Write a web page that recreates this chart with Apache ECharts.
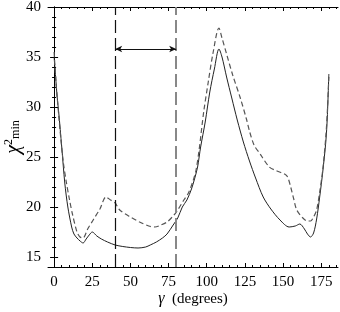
<!DOCTYPE html>
<html><head><meta charset="utf-8">
<script src="https://cdn.jsdelivr.net/npm/echarts@6/dist/echarts.min.js"></script>
<style>html,body{margin:0;padding:0;background:#fff}#c{width:340px;height:312px}</style>
</head><body><div id="c"></div>
<script>
var xTicks = [0, 25, 50, 75, 100, 125, 150, 175];
var yTicks = [15, 20, 25, 30, 35, 40];
var gammaSolid = [0,1,2,3,5,7,9,11.5,13,15,17,19,21,23,25,28,31,35,40,45,50,55,60,63,67,71,74,78,81,84,87,90,92,94,96,99,102,105,108,110,113,116.4,120,124,128,132,137,142,148,154,158,161,164,166,168,170,172,174,176,178,179,180];
var chiSolid = [35,33,31,29.5,26,22.4,20,18,17.3,16.9,16.6,16.4,16.8,17.2,17.5,17.1,16.8,16.5,16.2,16.05,15.95,15.9,16.0,16.2,16.5,16.9,17.3,18.2,18.9,20,20.7,21.8,22.8,24,26,28.5,31.5,33.8,35.8,35,33,30.9,28.7,26.5,24.6,22.9,21,19.8,18.7,18.0,18.1,18.3,17.8,17.3,17.0,17.4,18.8,21,23.5,26.5,29,33.3];
var gammaDashed = [0,1,2,4,6,8,10,12,15,17,19,22,26,30,34,37,40,43,50,56,62,66,70,74,78,81,85,88,91,93,95,98,101,104,108,110,113,117,122,126,128,131,135,141,146,151,153,155,157,159,163,166,168,170,172,174,176,178,179,180];
var chiDashed = [35.5,33,31,27.5,24.5,22.5,20.8,19.3,17.5,17.0,16.9,17.8,18.8,19.8,21,20.7,20.4,19.7,19,18.5,18.1,18.0,18.2,18.5,19.1,19.7,20.7,21.4,22.6,23.7,25.7,29.5,32.5,35.3,37.9,36.9,35.3,33.2,30.9,28.8,27.6,26.2,25.3,24,23.6,23.3,23.0,22,20.8,19.7,18.9,18.6,18.6,19.0,19.7,21.5,23.7,27,29.5,33];
var bandLines = [40, 80];
var arrowY = 35.8;

function range(a, b, s) { var r = []; for (var v = a; v <= b + 1e-9; v += s) r.push(v); return r; }
function zip(xs, ys) { return xs.map(function (x, i) { return [x, ys[i]]; }); }

var font = 'Liberation Serif';
var X0 = -4, X1 = 186, Y0 = 14, Y1 = 40;
var xMinor = range(0, 185, 5), yMinor = range(14, 40, 1);

function xAx(pos, major, showLabel, showName) {
  return {
    type: 'value', min: X0, max: X1, position: pos,
    axisLine: { show: major, lineStyle: { color: '#000', width: 1 } },
    axisTick: { show: true, inside: true, length: major ? 4 : 2, customValues: major ? xTicks : xMinor, lineStyle: { color: '#000' } },
    axisLabel: { show: showLabel, customValues: xTicks, color: '#000', fontFamily: font, fontSize: 15, margin: 8 },
    splitLine: { show: false },
    name: showName ? '{i|γ}  (degrees)' : '',
    nameLocation: 'middle', nameGap: 24, nameMoveOverlap: false,
    nameTextStyle: { color: '#000', fontFamily: font, fontSize: 15, rich: { i: { fontStyle: 'italic', fontFamily: font, fontSize: 16, color: '#000' } } }
  };
}
function yAx(pos, major, showLabel, showName) {
  return {
    type: 'value', min: Y0, max: Y1, position: pos,
    axisLine: { show: major, lineStyle: { color: '#000', width: 1 } },
    axisTick: { show: true, inside: true, length: major ? 4 : 2, customValues: major ? yTicks : yMinor, lineStyle: { color: '#000' } },
    axisLabel: { show: showLabel, customValues: yTicks, color: '#000', fontFamily: font, fontSize: 15, margin: 7 },
    splitLine: { show: false },
    name: showName ? '{c|χ}{s|2}{m|min}' : '',
    nameLocation: 'middle', nameGap: 24, nameRotate: 90, nameMoveOverlap: false,
    nameTextStyle: {
      color: '#000', fontFamily: font, fontSize: 18, verticalAlign: 'bottom',
      rich: {
        c: { fontStyle: 'italic', fontFamily: font, fontSize: 20, color: '#000' },
        s: { fontFamily: font, fontSize: 12, color: '#000', padding: [0, 0, 9, 0] },
        m: { fontFamily: font, fontSize: 12, color: '#000', padding: [5, 0, 0, 0] }
      }
    }
  };
}

var chart = echarts.init(document.getElementById('c'), null, { renderer: 'canvas' });
chart.setOption({
  animation: false,
  backgroundColor: '#fff',
  grid: { left: 48, right: 2, top: 7, bottom: 45, containLabel: false, outerBoundsMode: 'none' },
  xAxis: [xAx('bottom', true, true, true), xAx('bottom', false, false, false), xAx('top', true, false, false), xAx('top', false, false, false)],
  yAxis: [yAx('left', true, true, true), yAx('left', false, false, false), yAx('right', true, false, false), yAx('right', false, false, false)],
  series: [
    {
      type: 'line', data: zip(gammaSolid, chiSolid), showSymbol: false, smooth: 0.3,
      lineStyle: { color: '#222', width: 1 },
      markLine: {
        silent: true, symbol: ['none', 'none'], label: { show: false },
        data: [
          { xAxis: bandLines[0], lineStyle: { color: '#111', width: 1.2, type: [13, 5] } },
          { xAxis: bandLines[1], lineStyle: { color: '#888', width: 2, type: [13, 5] } },
          [
            { coord: [bandLines[0], arrowY], symbol: 'arrow', symbolSize: [5, 7], lineStyle: { color: '#111', width: 1, type: 'solid' } },
            { coord: [bandLines[1], arrowY], symbol: 'arrow', symbolSize: [5, 7] }
          ]
        ]
      }
    },
    {
      type: 'line', data: zip(gammaDashed, chiDashed), showSymbol: false, smooth: 0.3,
      lineStyle: { color: '#555', width: 1.2, type: [5, 3] }
    }
  ]
});
</script></body></html>
